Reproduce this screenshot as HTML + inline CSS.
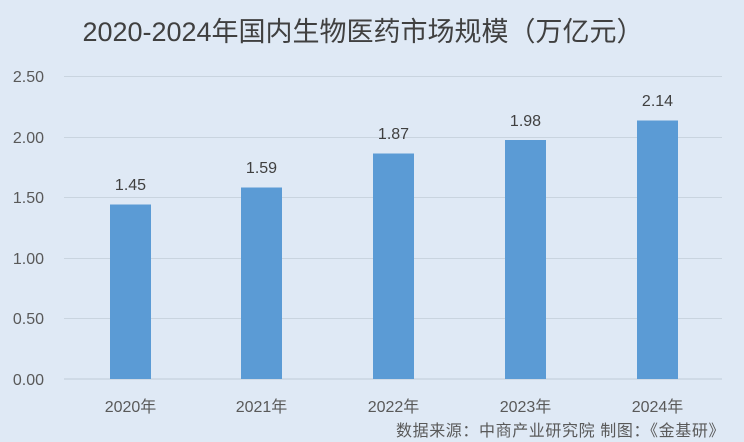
<!DOCTYPE html><html><head><meta charset="utf-8"><style>
body{margin:0;width:744px;height:442px;background:#dfe9f5;overflow:hidden;font-family:"Liberation Sans","Noto Sans CJK SC",sans-serif;}
</style></head><body>
<svg width="744" height="442" xmlns="http://www.w3.org/2000/svg" style="position:absolute;left:0;top:0">
<rect width="744" height="442" fill="#dfe9f5"/>
<text x="363" y="41" text-anchor="middle" font-size="27" fill="#404040" font-family="Liberation Sans,Noto Sans CJK SC,sans-serif">2020-2024年国内生物医药市场规模（万亿元）</text>
<g stroke="#c9d4df" stroke-width="1">
<line x1="64" x2="722" y1="76.5" y2="76.5"/><line x1="64" x2="722" y1="137.5" y2="137.5"/><line x1="64" x2="722" y1="197.5" y2="197.5"/><line x1="64" x2="722" y1="258.5" y2="258.5"/><line x1="64" x2="722" y1="318.5" y2="318.5"/><line x1="64" x2="722" y1="379" y2="379" stroke="#bfcad6"/>
</g>
<g font-size="16" fill="#595959" text-anchor="end">
<text x="44" y="82">2.50</text><text x="44" y="143">2.00</text><text x="44" y="203">1.50</text><text x="44" y="264">1.00</text><text x="44" y="324">0.50</text><text x="44" y="385">0.00</text>
</g>
<g fill="#5b9bd5">
<rect x="110" y="204.5" width="41" height="174.5"/>
<rect x="241" y="187.5" width="41" height="191.5"/>
<rect x="373" y="153.5" width="41" height="225.5"/>
<rect x="505" y="140" width="41" height="239"/>
<rect x="637" y="120.5" width="41" height="258.5"/>
</g>
<g font-size="16" fill="#404040" text-anchor="middle">
<text x="130.5" y="190">1.45</text><text x="261.5" y="173">1.59</text><text x="393.5" y="139">1.87</text><text x="525.5" y="126">1.98</text><text x="657.5" y="106">2.14</text>
</g>
<g font-size="16" fill="#595959" text-anchor="middle">
<text x="130.5" y="412">2020年</text><text x="261.5" y="412">2021年</text><text x="393.5" y="412">2022年</text><text x="525.5" y="412">2023年</text><text x="657.5" y="412">2024年</text>
</g>
<text x="396" y="436" font-size="16" letter-spacing="0.6" fill="#595959">数据来源：中商产业研究院  制图：《金基研》</text>
</svg>
</body></html>
